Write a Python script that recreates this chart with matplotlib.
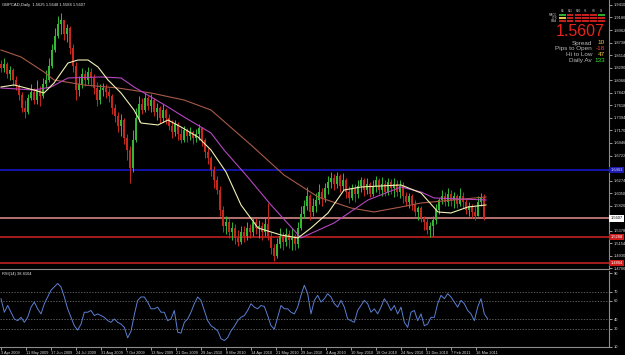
import numpy as np
import matplotlib
matplotlib.use("Agg")
import matplotlib.pyplot as plt
from matplotlib.patches import Rectangle
import matplotlib.transforms as mtransforms

# ---------------- data ----------------
symbol_title = "GBPCAD,Daily  1.5625 1.5648 1.5584 1.5607"
rsi_title = "RSI(14) 38.8104"

first_open = 1.8356
closes = [1.8284, 1.8356, 1.8177, 1.8248, 1.8070, 1.7963, 1.7802, 1.7570, 1.7499, 1.7749,
          1.7856, 1.7713, 1.7891, 1.7784, 1.7999, 1.8070, 1.8320, 1.8605, 1.8855, 1.9070,
          1.9141, 1.8891, 1.8998, 1.8641, 1.8320, 1.7891, 1.7999, 1.8177, 1.8070, 1.8213,
          1.8106, 1.7927, 1.7713, 1.7891, 1.7927, 1.7856, 1.7784, 1.7570, 1.7427, 1.7249,
          1.7356, 1.7035, 1.6820, 1.6499, 1.6999, 1.7392, 1.7642, 1.7534, 1.7749, 1.7606,
          1.7713, 1.7499, 1.7570, 1.7392, 1.7534, 1.7392, 1.7249, 1.7142, 1.7285, 1.7106,
          1.6999, 1.7177, 1.7070, 1.7142, 1.7035, 1.7106, 1.7213, 1.6999, 1.6785, 1.6678,
          1.6463, 1.6285, 1.6106, 1.5749, 1.5464, 1.5535, 1.5357, 1.5428, 1.5250, 1.5178,
          1.5357, 1.5285, 1.5428, 1.5357, 1.5535, 1.5428, 1.5464, 1.5357, 1.5500, 1.5285,
          1.5071, 1.4928, 1.5143, 1.5285, 1.5178, 1.5321, 1.5214, 1.5250, 1.5143, 1.5428,
          1.5678, 1.5821, 1.5999, 1.5714, 1.5821, 1.5928, 1.6071, 1.5964, 1.6142, 1.6249,
          1.6321, 1.6214, 1.6356, 1.6178, 1.6285, 1.6071, 1.5964, 1.6142, 1.6035, 1.6178,
          1.6285, 1.6106, 1.6214, 1.6035, 1.6178, 1.6285, 1.6106, 1.6214, 1.6071, 1.6249,
          1.6142, 1.6214, 1.6071, 1.6178, 1.5999, 1.5892, 1.5999, 1.5857, 1.5714, 1.5785,
          1.5607, 1.5535, 1.5392, 1.5464, 1.5571, 1.5749, 1.5928, 1.5999, 1.5892, 1.6035,
          1.5928, 1.5999, 1.5857, 1.5999, 1.5892, 1.5749, 1.5821, 1.5714, 1.5642, 1.5892,
          1.5964, 1.5607]
highs = [1.8427, 1.8463, 1.8391, 1.8320, 1.8284, 1.8141, 1.7999, 1.7856, 1.7713, 1.7820,
         1.7999, 1.7927, 1.8070, 1.7963, 1.8106, 1.8248, 1.8463, 1.8713, 1.8998, 1.9212,
         1.9266, 1.9105, 1.9070, 1.9034, 1.8713, 1.8391, 1.8141, 1.8284, 1.8248, 1.8302,
         1.8284, 1.8177, 1.8034, 1.7999, 1.8016, 1.7999, 1.7927, 1.7820, 1.7642, 1.7499,
         1.7463, 1.7392, 1.7106, 1.6892, 1.7177, 1.7570, 1.7784, 1.7749, 1.7838, 1.7784,
         1.7820, 1.7749, 1.7659, 1.7606, 1.7642, 1.7570, 1.7463, 1.7356, 1.7356, 1.7320,
         1.7213, 1.7249, 1.7213, 1.7231, 1.7177, 1.7195, 1.7285, 1.7231, 1.7035, 1.6856,
         1.6713, 1.6535, 1.6356, 1.6178, 1.5821, 1.5642, 1.5607, 1.5535, 1.5500, 1.5392,
         1.5464, 1.5464, 1.5535, 1.5500, 1.5625, 1.5607, 1.5571, 1.5535, 1.5607, 1.5874,
         1.5357, 1.5143, 1.5250, 1.5428, 1.5357, 1.5428, 1.5392, 1.5428, 1.5321, 1.5535,
         1.5821, 1.5928, 1.6160, 1.6035, 1.5964, 1.6053, 1.6214, 1.6142, 1.6231, 1.6356,
         1.6428, 1.6392, 1.6428, 1.6392, 1.6410, 1.6321, 1.6178, 1.6214, 1.6214, 1.6285,
         1.6339, 1.6321, 1.6321, 1.6249, 1.6285, 1.6356, 1.6321, 1.6339, 1.6285, 1.6321,
         1.6303, 1.6321, 1.6285, 1.6285, 1.6249, 1.6071, 1.6053, 1.6035, 1.5928, 1.5821,
         1.5821, 1.5642, 1.5607, 1.5535, 1.5642, 1.5857, 1.5964, 1.6106, 1.6071, 1.6142,
         1.6106, 1.6071, 1.6035, 1.6142, 1.6071, 1.5964, 1.5892, 1.5857, 1.5821, 1.5999,
         1.6053, 1.6035]
lows = [1.8213, 1.8213, 1.8106, 1.8070, 1.7963, 1.7891, 1.7713, 1.7499, 1.7392, 1.7463,
        1.7713, 1.7642, 1.7642, 1.7606, 1.7749, 1.7927, 1.8034, 1.8284, 1.8570, 1.8820,
        1.8891, 1.8784, 1.8748, 1.8534, 1.8213, 1.7713, 1.7784, 1.7927, 1.7963, 1.7999,
        1.7963, 1.7820, 1.7606, 1.7642, 1.7784, 1.7749, 1.7677, 1.7463, 1.7320, 1.7142,
        1.7070, 1.6928, 1.6642, 1.6231, 1.6428, 1.6963, 1.7320, 1.7463, 1.7499, 1.7534,
        1.7499, 1.7427, 1.7356, 1.7302, 1.7320, 1.7285, 1.7177, 1.7035, 1.7070, 1.6999,
        1.6945, 1.6963, 1.6963, 1.6999, 1.6928, 1.6963, 1.6999, 1.6892, 1.6678, 1.6571,
        1.6356, 1.6142, 1.6035, 1.5642, 1.5357, 1.5321, 1.5250, 1.5214, 1.5143, 1.5107,
        1.5143, 1.5178, 1.5214, 1.5250, 1.5285, 1.5321, 1.5250, 1.5214, 1.5285, 1.5214,
        1.4964, 1.4839, 1.4893, 1.5071, 1.5035, 1.5107, 1.5071, 1.5035, 1.5035, 1.5071,
        1.5392, 1.5607, 1.5749, 1.5571, 1.5642, 1.5714, 1.5857, 1.5821, 1.5892, 1.6035,
        1.6142, 1.6106, 1.6142, 1.6071, 1.6106, 1.5964, 1.5874, 1.5928, 1.5892, 1.5964,
        1.6071, 1.5999, 1.6035, 1.5982, 1.5999, 1.6071, 1.6035, 1.5999, 1.5999, 1.6017,
        1.6035, 1.5982, 1.5999, 1.5964, 1.5874, 1.5821, 1.5785, 1.5749, 1.5642, 1.5571,
        1.5535, 1.5392, 1.5321, 1.5268, 1.5285, 1.5500, 1.5678, 1.5857, 1.5821, 1.5821,
        1.5821, 1.5785, 1.5785, 1.5821, 1.5785, 1.5678, 1.5642, 1.5607, 1.5571, 1.5642,
        1.5821, 1.5571]

# moving averages (bar positions in day-units, values)
ma_fast_x = [0, 13, 33, 43, 53, 60, 67, 77, 87, 97, 107, 120, 133, 140, 157, 167, 180, 197,
             210, 225, 240, 257, 280, 297, 310, 327, 343, 360, 380, 400, 420, 437, 450, 467, 485]
ma_fast = [1.7945, 1.7981, 1.7891, 1.7838, 1.8016, 1.8195, 1.8373, 1.8427, 1.8427, 1.8302,
           1.8070, 1.7838, 1.7534, 1.7302, 1.7267, 1.7356, 1.7231, 1.7052, 1.6820, 1.6428,
           1.5839, 1.5428, 1.5303, 1.5250, 1.5428, 1.5696, 1.6106, 1.6160, 1.6178, 1.6196,
           1.6053, 1.5714, 1.5696, 1.5803, 1.5839]
ma_mid_x = [0, 33, 50, 67, 100, 120, 133, 150, 167, 183, 210, 223, 245, 270, 300, 333, 367,
            400, 420, 433, 485]
ma_mid = [1.7927, 1.7891, 1.7945, 1.8106, 1.8124, 1.8106, 1.7945, 1.7767, 1.7588, 1.7410,
          1.7124, 1.6820, 1.6374, 1.5839, 1.5250, 1.5517, 1.5928, 1.6160, 1.6071, 1.5964, 1.5928]
ma_slow_x = [0, 20, 43, 53, 83, 117, 150, 183, 210, 250, 283, 317, 350, 373, 400, 420, 485]
ma_slow = [1.8605, 1.8481, 1.8213, 1.8070, 1.7981, 1.7927, 1.7838, 1.7713, 1.7534, 1.6910,
           1.6374, 1.5982, 1.5785, 1.5714, 1.5803, 1.5874, 1.5982]

hline_prices = [1.6463, 1.5600, 1.5268, 1.4804]
hline_colors = ["#1414a8", "#e89090", "#d02424", "#d02424"]
tag_labels = ["1.6463", "1.5607", "1.5268", "1.4804"]
tag_faces = ["#1c1cb4", "#ffffff", "#cc1c1c", "#cc1c1c"]
tag_texts = ["#d0d0ff", "#000000", "#ffffff", "#ffffff"]

price_ticks = [1.9410, 1.9186, 1.8962, 1.8738, 1.8514, 1.8290, 1.8066, 1.7842, 1.7618,
               1.7394, 1.7170, 1.6946, 1.6722, 1.6498, 1.6274, 1.6050, 1.5826, 1.5602,
               1.5378, 1.5154, 1.4930, 1.4706]

rsi_values = [62.2, 47.6, 54.9, 47.6, 40.3, 38.5, 42.1, 36.7, 42.1, 53.1,
              58.6, 51.3, 45.8, 56.8, 64.1, 71.4, 75.0, 78.7, 75.0, 64.1,
              51.3, 42.1, 33.0, 28.3, 34.8, 47.6, 47.6, 49.5, 44.0, 45.8,
              44.0, 42.1, 38.5, 36.7, 40.3, 36.7, 34.8, 31.2, 20.0, 27.0,
              45.0, 60.4, 64.1, 64.1, 58.6, 51.3, 51.3, 53.1, 47.6, 47.6,
              38.5, 40.3, 49.5, 26.0, 25.0, 36.7, 40.3, 47.6, 56.8, 64.1,
              60.4, 49.5, 38.5, 33.0, 30.5, 27.5, 19.0, 17.0, 20.2, 27.5,
              32.3, 38.5, 42.1, 44.0, 49.5, 56.8, 53.1, 51.3, 54.9, 53.8,
              44.0, 33.0, 29.4, 42.1, 54.9, 51.3, 51.3, 47.6, 45.8, 53.1,
              65.9, 76.8, 67.7, 45.8, 60.4, 65.9, 58.6, 62.2, 67.7, 64.1,
              56.8, 53.1, 60.4, 53.1, 40.3, 38.5, 36.7, 49.5, 54.9, 60.4,
              56.8, 47.6, 51.3, 45.8, 53.1, 62.2, 56.8, 49.5, 54.9, 45.8,
              53.1, 36.7, 31.2, 47.6, 49.5, 38.5, 45.8, 33.0, 34.8, 42.1,
              42.1, 56.8, 65.9, 62.2, 67.7, 64.1, 58.6, 53.1, 60.4, 56.8,
              49.5, 45.8, 38.5, 53.1, 62.2, 45.8, 40.3]
rsi_levels = [70, 60, 40, 30]
rsi_ticks = [90, 70, 60, 40, 30, 10]

date_labels = ["3 Apr 2009", "11 May 2009", "17 Jun 2009", "24 Jul 2009", "31 Aug 2009",
               "7 Oct 2009", "13 Nov 2009", "21 Dec 2009", "29 Jan 2010", "8 Mar 2010",
               "14 Apr 2010", "21 May 2010", "29 Jun 2010", "4 Aug 2010", "10 Sep 2010",
               "18 Oct 2010", "24 Nov 2010", "31 Dec 2010", "7 Feb 2011", "16 Mar 2011"]

timeframes = ["M5", "M15", "M30", "H1", "H4", "D1"]
signal_rows = ["MACD", "STR", "EMA"]
signal_states = [["g", "r", "r", "r", "r", "g"],
                 ["y", "r", "r", "r", "r", "r"],
                 ["r", "r", "r", "r", "r", "r"]]
bid_text = "1.5607"
info_labels = ["Spread", "Pips to Open", "Hi to Low", "Daily Av"]
info_values = ["10", "-18", "47", "133"]
info_colors = ["#f0d040", "#ff4030", "#f0d040", "#30e030"]

# ---------------- drawing ----------------
W, H = 625, 355
fig = plt.figure(figsize=(W / 100, H / 100), dpi=100, facecolor="black")
FONT = ["Liberation Sans", "DejaVu Sans"]
GRAY = "#8c8c8c"

main_bottom_px, rsi_top_px, rsi_bottom_px, right_px = 269, 271, 347, 609
ax = fig.add_axes([0, 1 - main_bottom_px / H, right_px / W, main_bottom_px / H])
axr = fig.add_axes([0, 1 - rsi_bottom_px / H, right_px / W, (rsi_bottom_px - rsi_top_px) / H])

for a in (ax, axr):
    a.set_facecolor("black")
    for s in ("left", "top"):
        a.spines[s].set_visible(False)
    a.spines["right"].set_color(GRAY)
    a.spines["bottom"].set_color(GRAY)
    a.spines["right"].set_linewidth(0.8)
    a.spines["bottom"].set_linewidth(0.8)
    a.set_xlim(-1, right_px - 1)
    a.yaxis.tick_right()
    a.tick_params(axis="y", colors="#d8d8d8", labelsize=2.9, length=2, width=0.5, pad=1.2)

# candles
closes_a = np.array(closes)
opens_a = np.r_[first_open, closes_a[:-1]]
highs_a = np.maximum(np.array(highs), np.maximum(opens_a, closes_a))
lows_a = np.minimum(np.array(lows), np.minimum(opens_a, closes_a))
bar_x = np.arange(len(closes_a)) * 3.0
up = closes_a >= opens_a
cols = np.where(up, "#34b834", "#c8281c")
ax.vlines(bar_x, lows_a, highs_a, colors=cols, linewidth=0.7, zorder=3)
ax.bar(bar_x, closes_a - opens_a, bottom=opens_a, width=1.8, color=cols, linewidth=0, zorder=3)

# moving averages
ax.plot(ma_slow_x, ma_slow, color="#a85a48", lw=0.8, zorder=4)
ax.plot(ma_mid_x, ma_mid, color="#b446c0", lw=0.8, zorder=4)
ax.plot(ma_fast_x, ma_fast, color="#f0f0b4", lw=0.8, zorder=4)

# horizontal levels
for p, c in zip(hline_prices, hline_colors):
    ax.axhline(p, color=c, lw=1.4 if c == "#1414a8" else 1.1, zorder=2)

ax.set_ylim(1.4696, 1.9498)
ax.set_yticks(price_ticks)
# tick labels hidden behind the coloured level tags are left blank, as in the terminal
tick_text = []
for v in price_ticks:
    hidden = any(abs(v - p) < 0.006 for p in hline_prices)
    tick_text.append("" if hidden else f"{v:.4f}")
ax.set_yticklabels(tick_text, family=FONT)
ax.set_xticks([])

trans = mtransforms.blended_transform_factory(ax.transAxes, ax.transData)
for p, lab, fc, tc in zip(hline_prices, tag_labels, tag_faces, tag_texts):
    ax.text(1.002, p, lab, transform=trans, ha="left", va="center", fontsize=2.9,
            color=tc, family=FONT, clip_on=False, zorder=10,
            bbox=dict(boxstyle="square,pad=0.35", fc=fc, ec="none"))

ax.text(2 / right_px, 1 - 5 / main_bottom_px, symbol_title, transform=ax.transAxes,
        ha="left", va="center", fontsize=3.0, color="#e8e8e8", family=FONT)

# RSI panel
rsi_x = np.arange(len(rsi_values)) * (10.0 / 3.0)
axr.plot(rsi_x, rsi_values, color="#5b7fd2", lw=0.7, zorder=3)
for lv in rsi_levels:
    axr.axhline(lv, color="#7a7a7a", lw=0.5, ls=(0, (2, 2)), zorder=2)
axr.set_ylim(10, 92.2)
axr.set_yticks(rsi_ticks)
axr.set_yticklabels([str(t) for t in rsi_ticks], family=FONT)
axr.set_xticks(np.arange(len(date_labels)) * 25)
axr.set_xticklabels(date_labels, family=FONT)
axr.tick_params(axis="x", colors="#d8d8d8", labelsize=2.8, length=2, width=0.5, pad=1.0)
for lab in axr.get_xticklabels():
    lab.set_ha("left")
axr.text(2 / right_px, 0.96, rsi_title, transform=axr.transAxes, ha="left", va="center",
         fontsize=2.9, color="#e8e8e8", family=FONT)

# top-right signal widget
def fx(px):
    return px / W

def fy(py):
    return 1 - py / H

state_col = {"g": "#2ea82e", "r": "#c41e1e", "y": "#e8c84a"}
for j, tf in enumerate(timeframes):
    fig.text(fx(562.5 + j * 7.8), fy(11), tf, ha="center", va="center", fontsize=1.9,
             color="#c0c0c0", family=FONT)
for r, (name, states) in enumerate(zip(signal_rows, signal_states)):
    fig.text(fx(557), fy(15.2 + r * 2.9), name, ha="right", va="center", fontsize=2.0,
             color="#c0c0c0", family=FONT)
    for j, st in enumerate(states):
        fig.patches.append(Rectangle((fx(559 + j * 7.8), fy(16.3 + r * 2.9)), 6.6 / W, 2.1 / H,
                                     transform=fig.transFigure, facecolor=state_col[st],
                                     edgecolor="none"))

fig.text(fx(605), fy(32), bid_text, ha="right", va="center", fontsize=11.5,
         color="#e8221c", family=FONT)
for k, (lab, val, vc) in enumerate(zip(info_labels, info_values, info_colors)):
    yy = fy(43 + k * 5.7)
    fig.text(fx(592), yy, lab, ha="right", va="center", fontsize=4.6, color="#b8b8b8", family=FONT)
    fig.text(fx(605), yy, val, ha="right", va="center", fontsize=4.6, color=vc, family=FONT)

fig.savefig("out.png", dpi=100, facecolor="black")
